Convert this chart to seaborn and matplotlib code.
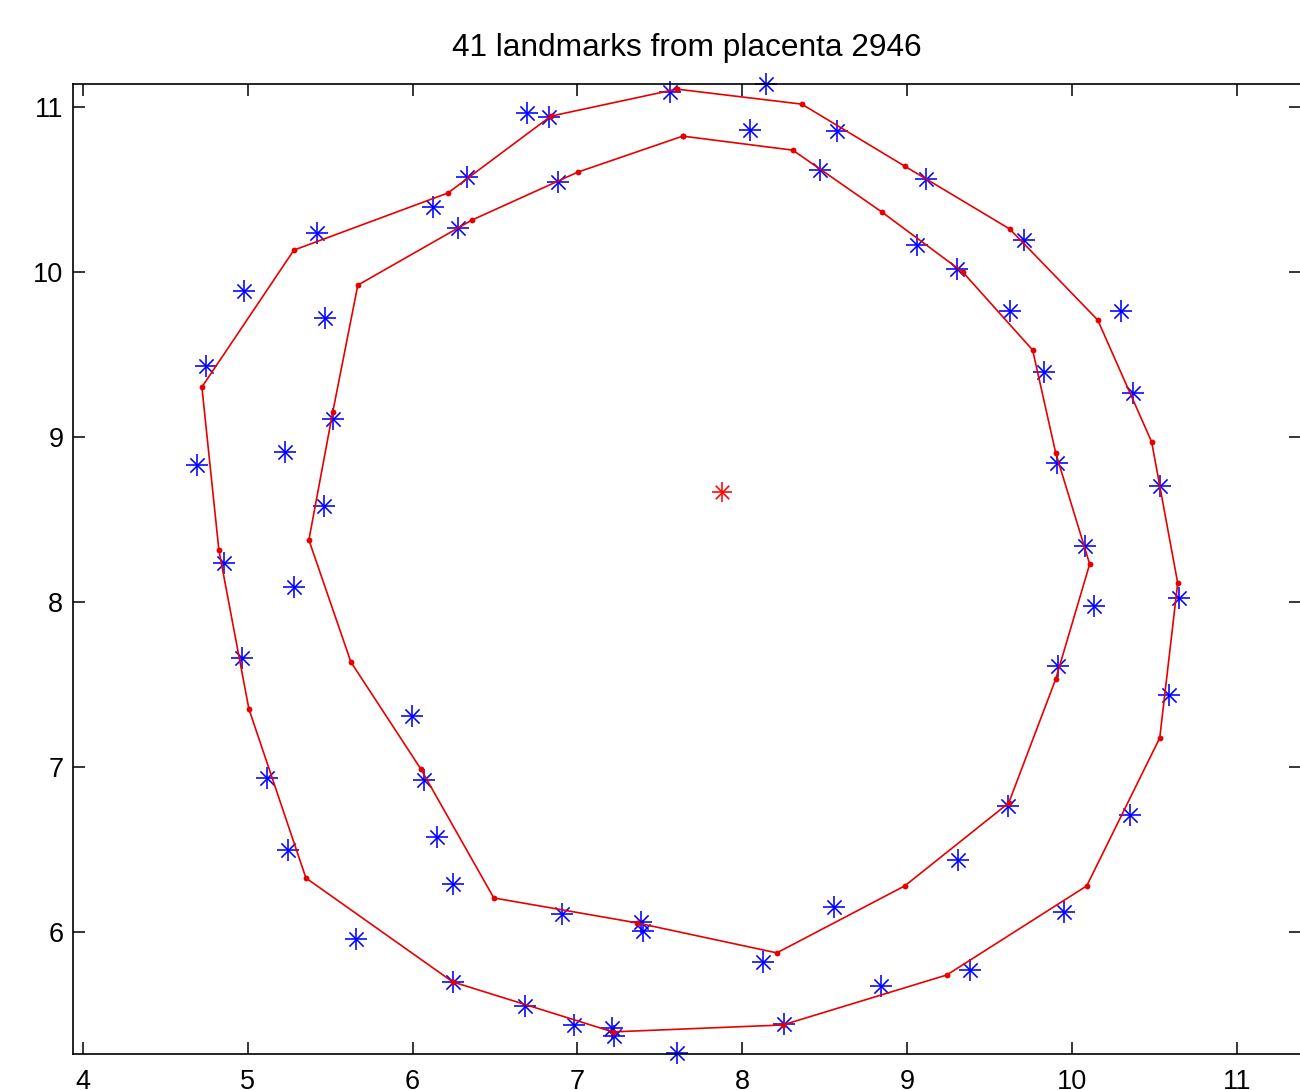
import matplotlib
matplotlib.use("Agg")
import matplotlib.pyplot as plt
import seaborn as sns
import pandas as pd

# ---- data ----
star_x = [6.693, 6.827, 7.561, 8.143, 8.046, 8.574, 9.113, 9.708, 10.296, 10.369,
          10.533, 10.648, 10.587, 10.351, 9.950, 9.380, 8.840, 8.252, 7.603, 7.209,
          7.221, 6.978, 6.681, 6.244, 5.656, 5.243, 5.116, 4.964, 4.855, 4.692,
          4.746, 4.977, 5.468, 5.419, 6.123, 6.329, 6.275, 6.881, 8.470, 9.059,
          9.301, 9.623, 9.829, 9.908, 10.078, 10.132, 9.914, 9.611, 9.307, 8.555,
          8.125, 7.385, 7.397, 6.906, 6.244, 6.147, 6.068, 5.996, 5.280, 5.462,
          5.225, 5.516]
star_y = [10.964, 10.939, 11.091, 11.139, 10.861, 10.855, 10.564, 10.194, 9.764, 9.267,
          8.703, 8.024, 7.436, 6.709, 6.121, 5.770, 5.673, 5.442, 5.267, 5.418,
          5.370, 5.436, 5.552, 5.697, 5.958, 6.497, 6.933, 7.661, 8.236, 8.830,
          9.430, 9.885, 9.721, 10.236, 10.394, 10.576, 10.267, 10.545, 10.618, 10.164,
          10.018, 9.764, 9.394, 8.842, 8.339, 7.976, 7.612, 6.764, 6.436, 6.152,
          5.818, 6.061, 6.006, 6.109, 6.291, 6.576, 6.921, 7.309, 8.091, 8.582,
          8.909, 9.109]

outer_x = [7.603, 8.361, 8.986, 9.623, 10.157, 10.484, 10.642, 10.533, 10.090, 9.241,
           8.246, 7.215, 6.244, 5.353, 5.007, 4.825, 4.722, 5.280, 6.214, 6.839]
outer_y = [11.109, 11.018, 10.642, 10.261, 9.709, 8.970, 8.115, 7.176, 6.279, 5.739,
           5.436, 5.394, 5.697, 6.327, 7.352, 8.315, 9.303, 10.133, 10.479, 10.945]

inner_x = [7.639, 8.307, 8.847, 9.338, 9.762, 9.902, 10.108, 9.902, 9.617, 8.986,
           8.210, 7.360, 6.493, 6.050, 5.626, 5.371, 5.516, 5.668, 6.360, 7.003]
inner_y = [10.824, 10.739, 10.364, 10.000, 9.527, 8.903, 8.230, 7.533, 6.782, 6.279,
           5.873, 6.055, 6.206, 6.988, 7.636, 8.376, 9.152, 9.921, 10.315, 10.606]

center_x = [7.876]
center_y = [8.667]

x_ticks = [4, 5, 6, 7, 8, 9, 10, 11]
y_ticks = [6, 7, 8, 9, 10, 11]
title_text = "41 landmarks from placenta 2946"

# ---- style ----
sns.set_style("white")
plt.rcParams["font.family"] = ["Liberation Sans", "DejaVu Sans"]

fig = plt.figure(figsize=(13.0, 10.9), dpi=100)
ax = fig.add_axes([73 / 1300, (1090 - 1054) / 1090, (1301 - 73) / 1300, (1054 - 84) / 1090])

stars = pd.DataFrame({"x": star_x, "y": star_y})
sns.scatterplot(data=stars, x="x", y="y", marker="+", s=235, color="#0000ff",
                linewidth=1.15, ax=ax, clip_on=False, zorder=2)
sns.scatterplot(data=stars, x="x", y="y", marker="x", s=105, color="#0000ff",
                linewidth=1.15, ax=ax, clip_on=False, zorder=2)


def closed(xs, ys):
    return pd.DataFrame({"x": list(xs) + [xs[0]], "y": list(ys) + [ys[0]]})


for xs, ys in [(outer_x, outer_y), (inner_x, inner_y)]:
    df = closed(xs, ys)
    sns.lineplot(data=df, x="x", y="y", sort=False, estimator=None, color="#e80000",
                 linewidth=1.2, marker="o", markersize=4.2, markeredgewidth=0,
                 ax=ax, zorder=3)

cdf = pd.DataFrame({"x": center_x, "y": center_y})
sns.scatterplot(data=cdf, x="x", y="y", marker="+", s=200, color="#ff0000",
                linewidth=1.15, ax=ax, zorder=4)
sns.scatterplot(data=cdf, x="x", y="y", marker="x", s=95, color="#ff0000",
                linewidth=1.15, ax=ax, zorder=4)

ax.set_xlim(3.94, 11.39)
ax.set_ylim(5.26, 11.14)
ax.set_xticks(x_ticks)
ax.set_yticks(y_ticks)
ax.set_xticklabels([str(t) for t in x_ticks])
ax.set_yticklabels([str(t) for t in y_ticks])
ax.set_xlabel("")
ax.set_ylabel("")
ax.tick_params(axis="both", direction="in", length=8.5, width=1.1, colors="black",
               labelsize=19.5, top=True, right=True, bottom=True, left=True)
ax.tick_params(axis="x", pad=11)
ax.tick_params(axis="y", pad=7)
for sp in ax.spines.values():
    sp.set_visible(True)
    sp.set_color("black")
    sp.set_linewidth(1.2)
ax.set_title(title_text, fontsize=22.8, pad=20, color="black")

fig.savefig("out.png", dpi=100, facecolor="white")
